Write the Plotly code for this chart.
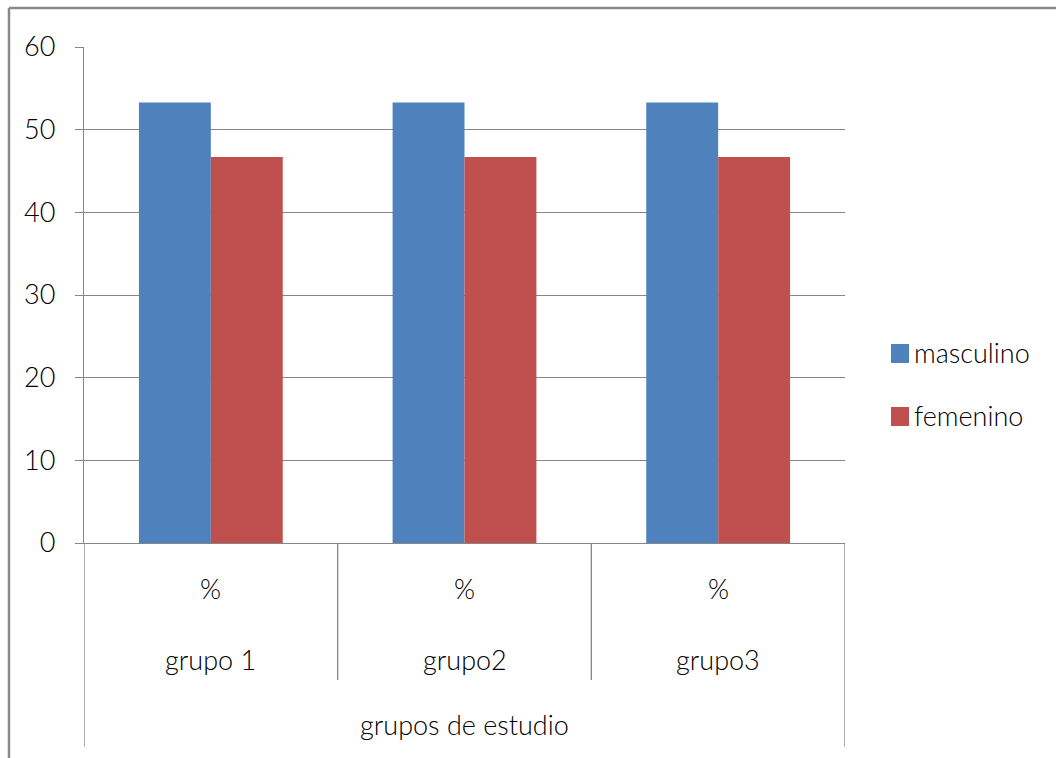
import plotly.graph_objects as go

# Data
groups = ["grupo 1", "grupo2", "grupo3"]
sub_label = "%"
axis_title = "grupos de estudio"
series_names = ["masculino", "femenino"]
masculino = [53.3, 53.3, 53.3]
femenino = [46.7, 46.7, 46.7]
colors = ["#4F81BD", "#C0504D"]

FONT = "Lato, Open Sans, sans-serif"
FS = 27
WEIGHT = 300
GRID = "#868686"
TEXT = "#000000"

W, H = 1056, 758
L, R, T, B = 84, 845, 47, 543  # plot area in pixels


def px_x(px):
    return (px - L) / (R - L)


def px_y(py):
    return (B - py) / (B - T)


fig = go.Figure()
for name, vals, col in zip(series_names, [masculino, femenino], colors):
    fig.add_trace(go.Bar(x=groups, y=vals, name=name, marker_color=col,
                         marker_line_width=0, showlegend=False))

shapes = []
annotations = []


def label(x, y, text, xref="x", xanchor="center"):
    annotations.append(dict(x=x, y=y, xref=xref, yref="paper", text=text,
                            showarrow=False, xanchor=xanchor, yanchor="middle",
                            font=dict(size=FS, color=TEXT, family=FONT, weight=WEIGHT)))


# multi-level category axis: dividers and labels
n = len(groups)
for i in range(n + 1):
    outer = i in (0, n)
    shapes.append(dict(type="line", xref="x", yref="paper",
                       x0=i - 0.5, x1=i - 0.5, y0=0,
                       y1=px_y(747) if outer else px_y(680),
                       line=dict(color=GRID, width=1.3)))
for i, g in enumerate(groups):
    label(i, px_y(588), sub_label)
    label(i, px_y(659), g)
label((n - 1) / 2, px_y(724), axis_title)

# legend
for k, (name, col) in enumerate(zip(series_names, colors)):
    top = 344 + k * 63
    shapes.append(dict(type="rect", xref="paper", yref="paper",
                       x0=px_x(891), x1=px_x(909), y0=px_y(top + 19), y1=px_y(top),
                       fillcolor=col, line=dict(width=0)))
    label(px_x(912), px_y(top + 8), name, xref="paper", xanchor="left")

# chart border (left and top edges)
shapes.append(dict(type="line", xref="paper", yref="paper",
                   x0=px_x(9), x1=px_x(9), y0=px_y(8), y1=px_y(760),
                   line=dict(color="#8a8a8a", width=2.5)))
shapes.append(dict(type="line", xref="paper", yref="paper",
                   x0=px_x(9), x1=px_x(1060), y0=px_y(8), y1=px_y(8),
                   line=dict(color="#8a8a8a", width=2.5)))

fig.update_layout(
    width=W, height=H,
    margin=dict(l=L, r=W - R, t=T, b=H - B, pad=0),
    paper_bgcolor="white", plot_bgcolor="white",
    barmode="group", bargap=0.433, bargroupgap=0,
    shapes=shapes, annotations=annotations,
    showlegend=False,
    xaxis=dict(showticklabels=False, ticks="", showgrid=False,
               showline=True, linecolor=GRID, linewidth=1.3,
               range=[-0.5, n - 0.5], zeroline=False),
    yaxis=dict(range=[0, 60], dtick=10, showgrid=True, gridcolor=GRID, gridwidth=1.3,
               showline=True, linecolor=GRID, linewidth=1.3,
               ticks="outside", ticklen=8, tickcolor=GRID, tickwidth=1.3,
               ticklabelstandoff=14, zeroline=False,
               tickfont=dict(size=FS, color=TEXT, family=FONT, weight=WEIGHT)),
)

fig.write_html("out.html")
